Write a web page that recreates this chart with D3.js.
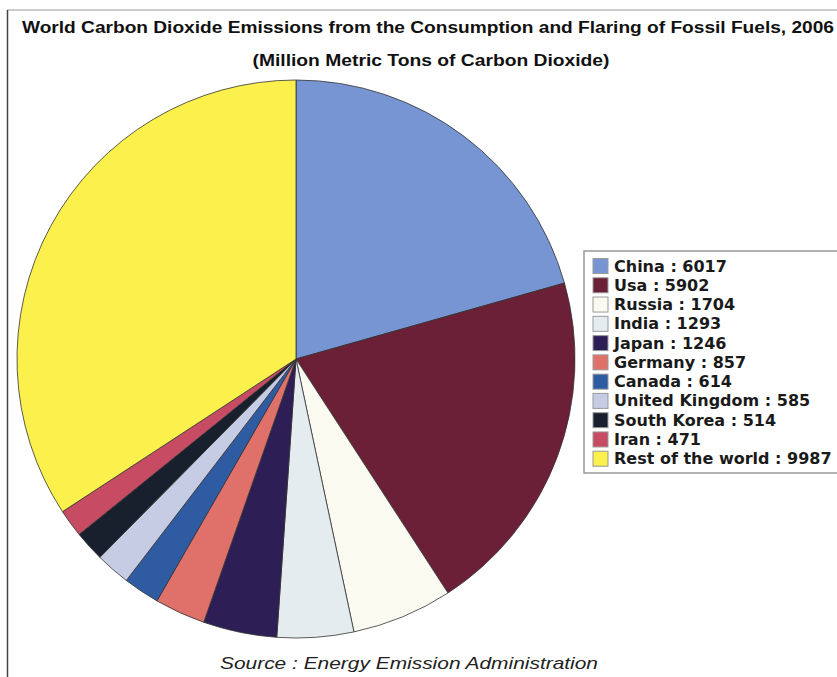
<!DOCTYPE html>
<html lang="en">
<head>
<meta charset="utf-8">
<title>World CO2 Emissions 2006</title>
<script src="https://cdn.jsdelivr.net/npm/d3@7/dist/d3.min.js"></script>
<style>
body { margin: 0; background: #fff; }
</style>
</head>
<body>
<script>
var countries = ["China", "Usa", "Russia", "India", "Japan", "Germany", "Canada", "United Kingdom", "South Korea", "Iran", "Rest of the world"];
var emissions = [6017, 5902, 1704, 1293, 1246, 857, 614, 585, 514, 471, 9987];
var sliceColors = ["#7795d2", "#6c2038", "#fbfaf0", "#e5ecef", "#2e1e56", "#e0716a", "#2f5ba3", "#c6cce4", "#17202c", "#c64b63", "#fbf04c"];

var w = 837, h = 677;
var cx = 296, cy = 359, r = 279;

var svg = d3.select("body").append("svg").attr("width", w).attr("height", h);

// frame lines (scanned page edges)
svg.append("line").attr("x1", 7).attr("y1", 10).attr("x2", 837).attr("y2", 10)
  .attr("stroke", "#bbb").attr("stroke-width", 1.5);
svg.append("line").attr("x1", 7.5).attr("y1", 10).attr("x2", 7.5).attr("y2", 677)
  .attr("stroke", "#444").attr("stroke-width", 1.5);

svg.append("text")
  .attr("x", 428).attr("y", 33)
  .attr("text-anchor", "middle")
  .attr("font-family", "Liberation Sans, Arial, sans-serif")
  .attr("font-weight", "bold").attr("font-size", 16)
  .attr("textLength", 812).attr("lengthAdjust", "spacingAndGlyphs")
  .attr("fill", "#111")
  .text("World Carbon Dioxide Emissions from the Consumption and Flaring of Fossil Fuels, 2006");

svg.append("text")
  .attr("x", 431).attr("y", 66)
  .attr("text-anchor", "middle")
  .attr("font-family", "Liberation Sans, Arial, sans-serif")
  .attr("font-weight", "bold").attr("font-size", 16)
  .attr("textLength", 357).attr("lengthAdjust", "spacingAndGlyphs")
  .attr("fill", "#111")
  .text("(Million Metric Tons of Carbon Dioxide)");

// pie
var data = countries.map(function(c, i) { return {name: c, value: emissions[i], color: sliceColors[i]}; });
var pie = d3.pie().sort(null).value(function(d) { return d.value; });
var arc = d3.arc().innerRadius(0).outerRadius(r);

svg.append("g").attr("transform", "translate(" + cx + "," + cy + ")")
  .selectAll("path")
  .data(pie(data))
  .enter().append("path")
  .attr("d", arc)
  .attr("fill", function(d) { return d.data.color; })
  .attr("stroke", "#333")
  .attr("stroke-width", 0.8);

// legend
var lx = 584, ly = 251;
svg.append("rect").attr("x", lx).attr("y", ly).attr("width", 260).attr("height", 222)
  .attr("fill", "#fff").attr("stroke", "#999").attr("stroke-width", 1.5);

var rowY = d3.scaleBand().domain(countries).range([ly + 5, ly + 217]).paddingInner(0);

var rows = svg.selectAll(".leg").data(data).enter().append("g").attr("class", "leg")
  .attr("transform", function(d) { return "translate(" + (lx + 9) + "," + rowY(d.name) + ")"; });
rows.append("rect").attr("x", 0).attr("y", 2.5).attr("width", 15).attr("height", 15)
  .attr("fill", function(d) { return d.color; })
  .attr("stroke", "#999").attr("stroke-width", 1);
rows.append("text").attr("x", 21).attr("y", 15.5)
  .attr("font-family", "DejaVu Sans, sans-serif")
  .attr("font-weight", "bold").attr("font-size", 16)
  .attr("fill", "#1a1a1a")
  .text(function(d) { return d.name + " : " + d.value; });

svg.append("text")
  .attr("x", 409).attr("y", 669)
  .attr("text-anchor", "middle")
  .attr("font-family", "Liberation Sans, Arial, sans-serif")
  .attr("font-style", "italic").attr("font-size", 17)
  .attr("textLength", 378).attr("lengthAdjust", "spacingAndGlyphs")
  .attr("fill", "#222")
  .text("Source : Energy Emission Administration");
</script>
</body>
</html>
